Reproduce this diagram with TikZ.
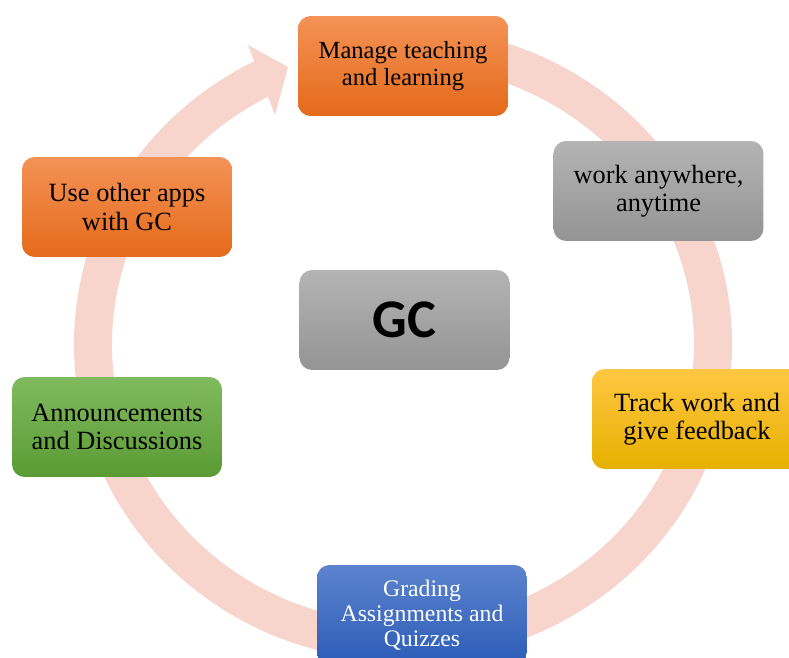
\documentclass[tikz,border=0pt]{standalone}
\usepackage{fontspec}
\setmainfont{Liberation Serif}
\newfontfamily\gcfont{Carlito}

\definecolor{ringpink}{RGB}{247,213,204}
\definecolor{orangetop}{RGB}{244,146,86}
\definecolor{orangebot}{RGB}{228,106,26}
\definecolor{greytop}{RGB}{180,180,180}
\definecolor{greybot}{RGB}{148,148,148}
\definecolor{yellowtop}{RGB}{255,199,66}
\definecolor{yellowbot}{RGB}{230,176,0}
\definecolor{bluetop}{RGB}{92,131,205}
\definecolor{bluebot}{RGB}{44,92,184}
\definecolor{greentop}{RGB}{128,186,94}
\definecolor{greenbot}{RGB}{90,155,52}

\tikzset{
  box/.style={rounded corners=0.25cm, minimum width=4.2cm, minimum height=2cm,
    align=center, inner sep=2pt, font=\fontsize{15pt}{16pt}\selectfont},
  orangebox/.style={box, top color=orangetop, bottom color=orangebot},
  greybox/.style={box, top color=greytop, bottom color=greybot},
  yellowbox/.style={box, top color=yellowtop, bottom color=yellowbot},
  bluebox/.style={box, top color=bluetop, bottom color=bluebot, text=white},
  greenbox/.style={box, top color=greentop, bottom color=greenbot},
  ring/.style={draw=ringpink, line width=0.76cm},
}

\begin{document}
\begin{tikzpicture}[x=0.02cm,y=0.02cm]
\useasboundingbox (0,0) rectangle (789,657);

% the circular arrow behind the boxes
\coordinate (ringc) at (403,313);
\draw[ring] (ringc) ++({310*cos(80)},{298*sin(80)})
  arc[start angle=80, end angle=-244, x radius=310, y radius=298];
\fill[ringpink] (248,612) -- (288,590) -- (275,542) -- cycle;

\node[orangebox, font=\fontsize{14pt}{15pt}\selectfont] (manage) at (403,591) {Manage teaching\\and learning};
\node[greybox] (anywhere) at (658.5,466) {work anywhere,\\anytime};
\node[yellowbox] (track) at (697,238) {Track work and\\give feedback};
\node[bluebox, font=\fontsize{13.5pt}{14.3pt}\selectfont] (grading) at (422,42) {Grading\\Assignments and\\Quizzes};
\node[greenbox] (announce) at (117,230) {Announcements\\and Discussions};
\node[orangebox] (otherapps) at (127,450) {Use other apps\\with GC};

\node[greybox, font=\gcfont\bfseries\fontsize{31pt}{34pt}\selectfont] (gc) at (404.5,337) {GC};
\end{tikzpicture}
\end{document}
